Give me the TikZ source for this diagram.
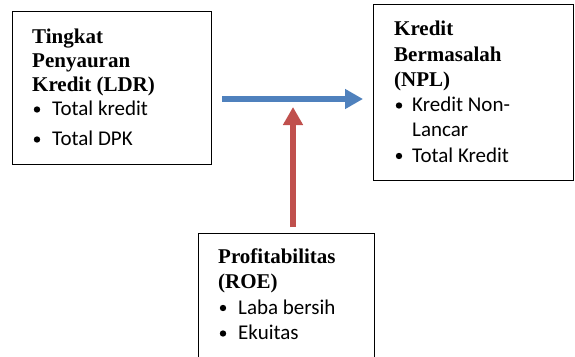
\documentclass[tikz,border=0pt]{standalone}
\usepackage{fontspec}
\setmainfont{Liberation Serif}
\newfontfamily\bodyfont{Carlito}
\usetikzlibrary{arrows.meta}
\definecolor{arrowblue}{HTML}{4F81BD}
\definecolor{arrowred}{HTML}{C0504D}
\begin{document}
\begin{tikzpicture}[x=1pt,y=-1pt,
  box/.style={draw=black,line width=1.4pt,rectangle,inner sep=0pt,anchor=north west},
  head/.style={anchor=base west,inner sep=0pt,font=\fontsize{21}{24}\selectfont\bfseries},
  item/.style={anchor=base west,inner sep=0pt,font=\fontsize{21}{24}\selectfont\bodyfont},
  bul/.style={fill=black},
  conn/.style={line width=6pt,-{Triangle[length=18pt,width=19pt]}}]
\useasboundingbox (0,0) rectangle (575,356);
\clip (0,0) rectangle (575,356);
% boxes
\node[box,minimum width=199pt,minimum height=153pt] (box1) at (12,11) {};
\node[box,minimum width=200pt,minimum height=176pt] (box2) at (373,4) {};
\node[box,minimum width=176pt,minimum height=140pt] (box3) at (198,233) {};
% box 1 text
\node[head] (h1a) at (32,43) {Tingkat};
\node[head] (h1b) at (32,67) {Penyauran};
\node[head] (h1c) at (32,91.5) {Kredit (LDR)};
\fill[bul] (37,109.5) circle (3.2pt);
\node[item] (i1a) at (52,115.5) {Total kredit};
\fill[bul] (37,139.5) circle (3.2pt);
\node[item] (i1b) at (52,145.5) {Total DPK};
% box 2 text
\node[head] (h2a) at (394,35) {Kredit};
\node[head] (h2b) at (394,61.5) {Bermasalah};
\node[head] (h2c) at (394,86.5) {(NPL)};
\fill[bul] (399,105.5) circle (3.2pt);
\node[item] (i2a) at (412,111.5) {Kredit Non-};
\node[item] (i2b) at (412,136) {Lancar};
\fill[bul] (399,156) circle (3.2pt);
\node[item] (i2c) at (412,162) {Total Kredit};
% box 3 text
\node[head] (h3a) at (218,263) {Profitabilitas};
\node[head] (h3b) at (218,288) {(ROE)};
\fill[bul] (223,308) circle (3.2pt);
\node[item] (i3a) at (238,314) {Laba bersih};
\fill[bul] (223,333.5) circle (3.2pt);
\node[item] (i3b) at (238,339.5) {Ekuitas};
% connectors
\coordinate (bs) at (222,99);
\coordinate (be) at (363,99);
\coordinate (rs) at (293,227);
\coordinate (re) at (293,107);
\draw[conn,arrowblue] (bs) -- (be);
\draw[conn,arrowred] (rs) -- (re);
\end{tikzpicture}
\end{document}
